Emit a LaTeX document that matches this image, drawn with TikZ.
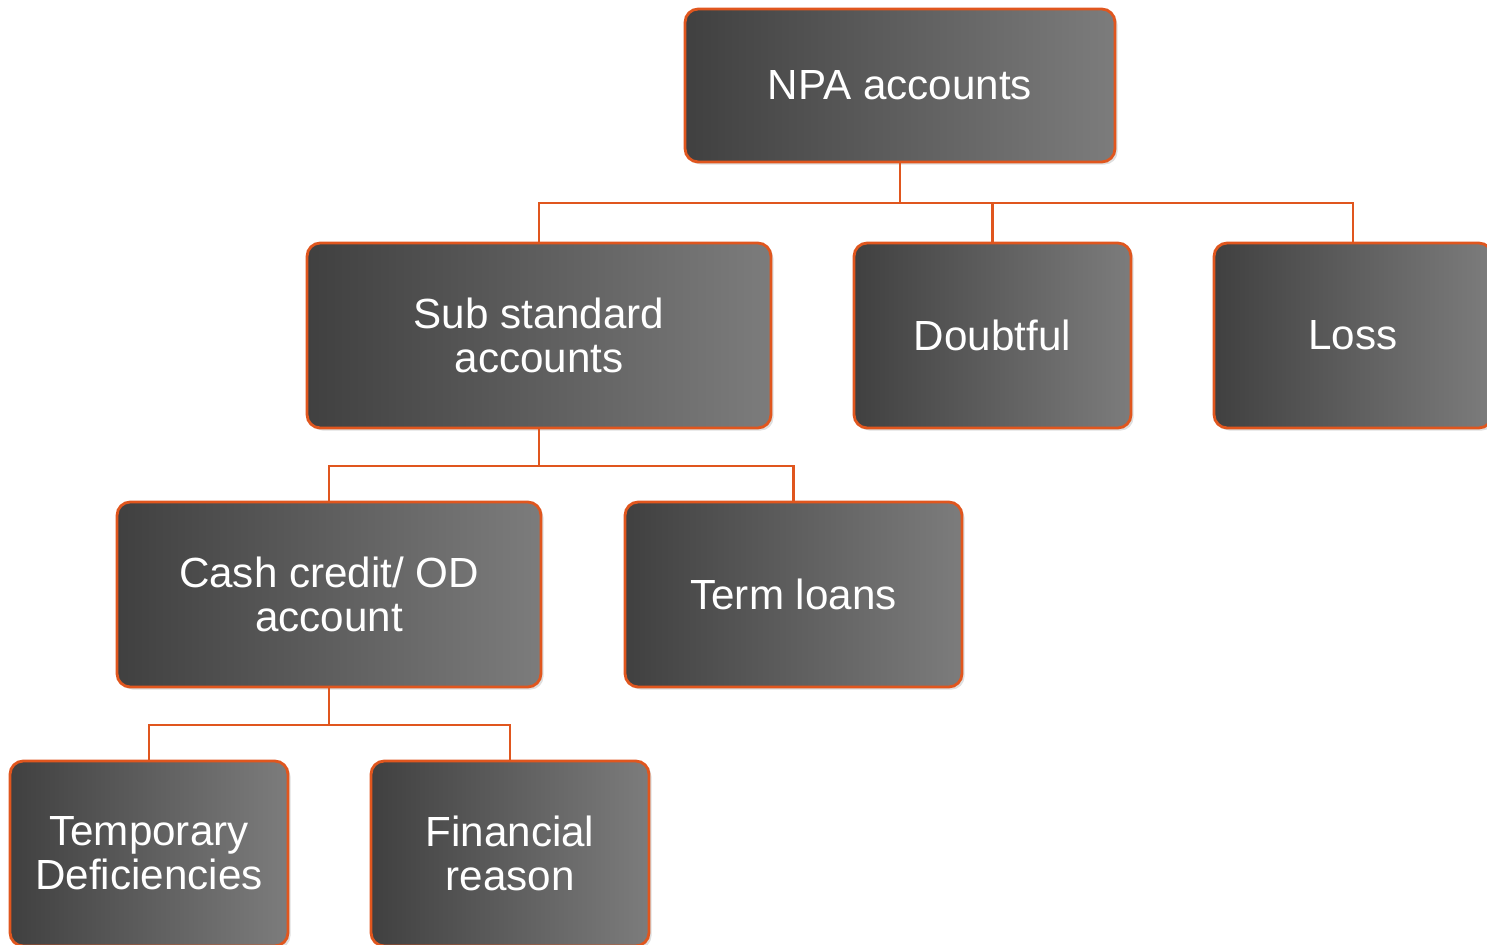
\documentclass[tikz,border=0pt]{standalone}
\usepackage{fontspec}
\setmainfont{Liberation Sans}
\usetikzlibrary{shadows}
\definecolor{npaorange}{HTML}{E0561E}
\definecolor{boxdark}{HTML}{404040}
\definecolor{boxlight}{HTML}{7C7C7C}
\tikzset{
	npabox/.style={draw=npaorange,line width=1.6pt,rounded corners=7.5pt,
		left color=boxdark,right color=boxlight,text=white,align=center,
		font=\fontsize{24}{25}\selectfont,inner sep=0pt,
		drop shadow={shadow xshift=1.5pt,shadow yshift=-1.5pt,opacity=0.25}},
	link/.style={draw=npaorange,line width=1.2pt}
}
\begin{document}
\begin{tikzpicture}[x=0.02cm,y=-0.02cm]
	\useasboundingbox (0,0) rectangle (1487,945);
	\node[npabox,minimum width=8.6cm,minimum height=3.06cm] (npa) at (900,85.5) {NPA accounts};
	\node[npabox,minimum width=9.28cm,minimum height=3.7cm] (sub) at (539,335.5) {Sub standard\\accounts};
	\node[npabox,minimum width=5.54cm,minimum height=3.7cm] (doubt) at (992.5,335.5) {Doubtful};
	\node[npabox,minimum width=5.56cm,minimum height=3.7cm] (loss) at (1353,335.5) {Loss};
	\node[npabox,minimum width=8.48cm,minimum height=3.7cm] (cash) at (329,594.5) {Cash credit/ OD\\account};
	\node[npabox,minimum width=6.74cm,minimum height=3.7cm] (term) at (793.5,594.5) {Term loans};
	\node[npabox,minimum width=5.56cm,minimum height=3.7cm] (temp) at (149,853.5) {Temporary\\Deficiencies};
	\node[npabox,minimum width=5.56cm,minimum height=3.7cm] (fin) at (510,853.5) {Financial\\reason};
	% connectors
	\draw[link] (npa.south) -- ++(0,40) -| (sub.north);
	\draw[link] (npa.south) -- ++(0,40) -| (doubt.north);
	\draw[link] (npa.south) -- ++(0,40) -| (loss.north);
	\draw[link] (sub.south) -- ++(0,37) -| (cash.north);
	\draw[link] (sub.south) -- ++(0,37) -| (term.north);
	\draw[link] (cash.south) -- ++(0,37) -| (temp.north);
	\draw[link] (cash.south) -- ++(0,37) -| (fin.north);
\end{tikzpicture}
\end{document}
